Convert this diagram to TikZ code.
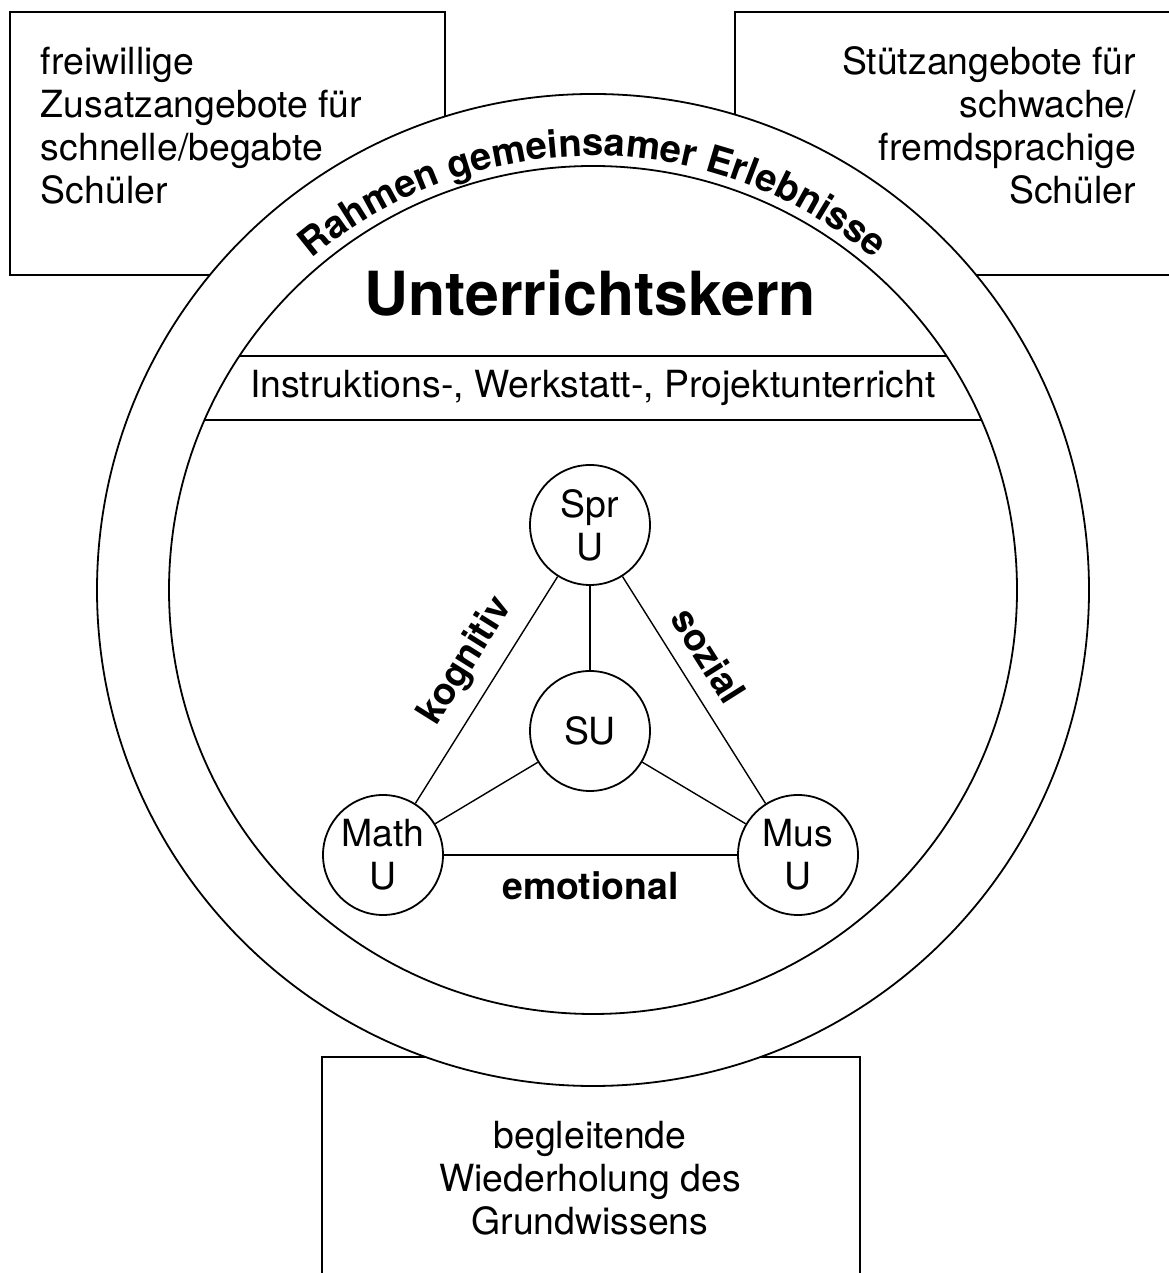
\documentclass[tikz,border=0pt]{standalone}
\usepackage{fontspec}
\setmainfont{TeX Gyre Heros}
\usetikzlibrary{decorations.text}

\begin{document}
\begin{tikzpicture}[x=.5pt, y=.5pt, line width=.9pt,
    txt/.style={font=\fontsize{18.7}{21.5}\selectfont, inner sep=0pt},
    fach/.style={txt, circle, draw, minimum size=60pt, align=center},
    kante/.style={line width=.7pt},
    dim/.style={txt, font=\fontsize{18.7}{21.5}\selectfont\bfseries}]
  \useasboundingbox (0,0) rectangle (1168,1273);
  % Zusatzangebote
  \draw (10,998) rectangle (445,1261);
  \draw (735,998) rectangle (1200,1261);
  \draw (322,-20) rectangle (860,216);
  \node[txt, anchor=north west, align=left] (frei) at (40,1227)
    {freiwillige\\Zusatzangebote für\\schnelle/begabte\\Schüler};
  \node[txt, anchor=north east, align=right] (stuetz) at (1137,1227)
    {Stützangebote für\\schwache/\\fremdsprachige\\Schüler};
  \node[txt, align=center] (wdh) at (590,95)
    {begleitende\\Wiederholung des\\Grundwissens};
  % Rahmen
  \coordinate (m) at (593,683);
  \draw[fill=white] (m) circle (496);
  \draw (m) circle (424);
  \path[decorate, decoration={text along path, text align=center,
      text={|\fontsize{19.1}{22}\selectfont\bfseries|Rahmen gemeinsamer Erlebnisse}}]
    (m) ++(150:434) arc[start angle=150, end angle=30, radius=434];
  \begin{scope}
    \clip (m) circle (424);
    \draw (0,917) -- (1168,917);
    \draw (0,853) -- (1168,853);
  \end{scope}
  \node[txt, font=\fontsize{30.4}{34}\selectfont\bfseries] (kern) at (590,980) {Unterrichtskern};
  \node[txt] (formen) at (593,885) {Instruktions-, Werkstatt-, Projektunterricht};
  % Faecher
  \node[fach] (spr) at (590,748) {Spr\\U};
  \node[fach] (su) at (590,542) {SU};
  \node[fach] (math) at (383,418) {Math\\U};
  \node[fach] (mus) at (798,418) {Mus\\U};
  \draw[kante] (math) -- (spr) node[dim, pos=.55, above=7pt, sloped] {kognitiv};
  \draw[kante] (spr) -- (mus) node[dim, pos=.42, above=8pt, sloped] {sozial};
  \draw[kante] (math) -- (mus) node[dim, midway, below=8pt] {emotional};
  \draw[kante] (spr) -- (su);
  \draw[kante] (su) -- (math);
  \draw[kante] (su) -- (mus);
\end{tikzpicture}
\end{document}
